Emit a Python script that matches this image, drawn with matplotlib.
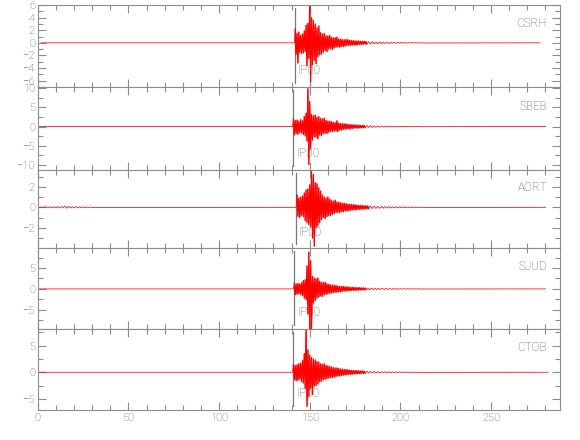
import matplotlib
matplotlib.use("Agg")
import matplotlib.pyplot as plt
import numpy as np
from matplotlib.ticker import MultipleLocator

# station traces, amplitudes (alternating swings)
stations = ["CSRH", "SBEB", "AORT", "SJUD", "CTOB"]
pick_label = "IP00"
pick_times = [142.0, 141.0, 142.5, 141.6, 141.0]
onsets = [142.0, 141.0, 143.0, 141.5, 141.0]
trace_start = [2.0, 1.0, 1.0, 1.0, 1.0]
trace_end = [277.0, 280.0, 280.0, 280.0, 281.5]
burst_dt = 0.5   # burst samples every 0.5 s from onset
coda_dt = 1.0    # coda samples every 1 s after the burst

csrh_burst = [2.2, -1.8, 1.5, -3.2, 1.7, -1.5, 1.2, -1.7, 1.4, -1.6,
              1.9, -1.4, 2.8, -3.6, 3.1, -2.5, 7.5, -6.2, 4.0, -3.5,
              3.6, -2.8, 3.0, -3.3, 2.4, -2.2, 2.7, -1.9, 1.6, -1.8,
              1.4, -1.5, 1.5, -1.2, 1.1, -1.4, 1.1, -1.0, 1.2, -0.9,
              0.9, -1.1, 0.8, -0.8, 0.8, -0.7, 0.9, -0.6, 0.6, -0.7,
              0.6, -0.6, 0.5, -0.6, 0.5, -0.5, 0.5, -0.4, 0.5, -0.4,
              0.4, -0.4, 0.4, -0.35, 0.35, -0.35, 0.3, -0.35, 0.3, -0.3,
              0.3, -0.25, 0.25, -0.3, 0.25, -0.2, 0.25, -0.2, 0.2, -0.2]
csrh_coda = [0.2, -0.2, 0.18, -0.15, 0.15, -0.14, 0.13, -0.12, 0.12, -0.1,
             0.1, -0.1, 0.09, -0.08, 0.08, -0.07, 0.07, -0.06, 0.06, -0.05,
             0.05, -0.05, 0.04, -0.04, 0.04, -0.03, 0.03, -0.03, 0.02, -0.02]

sbeb_burst = [2.0, -2.2, 1.6, -1.8, 1.7, -2.0, 1.4, -1.6, 1.8, -1.7,
              1.5, -2.1, 2.6, -2.4, 3.5, -3.8, 9.9, -9.9, 6.5, -5.8,
              3.2, -3.5, 2.8, -2.6, 3.0, -2.8, 2.4, -3.2, 2.6, -2.2,
              2.1, -2.4, 2.0, -1.8, 2.2, -1.7, 1.6, -1.8, 1.4, -1.5,
              1.4, -1.2, 1.3, -1.3, 1.1, -1.2, 1.0, -1.1, 1.5, -1.3,
              0.9, -0.9, 0.8, -0.9, 0.8, -0.7, 0.7, -0.7, 0.7, -0.6,
              0.6, -0.6, 0.5, -0.6, 0.5, -0.5, 0.5, -0.4, 0.4, -0.4,
              0.4, -0.4, 0.4, -0.35, 0.3, -0.35, 0.3, -0.3, 0.3, -0.3]
sbeb_coda = [0.3, -0.25, 0.25, -0.22, 0.2, -0.2, 0.18, -0.16, 0.16, -0.15,
             0.14, -0.13, 0.12, -0.12, 0.1, -0.1, 0.1, -0.09, 0.08, -0.08,
             0.07, -0.07, 0.06, -0.06, 0.05, -0.05, 0.04, -0.04, 0.03, -0.03]

aort_burst = [1.2, -0.9, 0.9, -1.0, 1.0, -0.8, 1.1, -0.9, 1.4, -1.3,
              1.7, -1.5, 1.8, -1.7, 2.2, -1.9, 3.7, -3.0, 3.2, -3.8,
              2.4, -2.0, 2.3, -1.8, 1.9, -1.5, 1.6, -1.2, 1.2, -1.0,
              1.0, -1.1, 0.9, -0.9, 1.0, -0.8, 0.8, -0.8, 0.7, -0.7,
              0.6, -0.6, 0.7, -0.5, 0.5, -0.5, 0.5, -0.5, 0.45, -0.4,
              0.4, -0.45, 0.4, -0.35, 0.35, -0.35, 0.3, -0.35, 0.3, -0.3,
              0.3, -0.25, 0.25, -0.25, 0.25, -0.25, 0.2, -0.2, 0.2, -0.2,
              0.2, -0.18, 0.18, -0.18, 0.15, -0.15, 0.15, -0.15, 0.14, -0.14]
aort_coda = [0.13, -0.12, 0.12, -0.11, 0.1, -0.1, 0.09, -0.09, 0.08, -0.08,
             0.07, -0.07, 0.06, -0.06, 0.05, -0.05, 0.05, -0.04, 0.04, -0.04,
             0.03, -0.03, 0.03, -0.03, 0.02, -0.02, 0.02, -0.02, 0.02, -0.02]
# small early wiggle on AORT, 1 s samples from t = 5 s
aort_early_start = 5.0
aort_early = [0.03, -0.03, 0.04, -0.04, 0.05, -0.04, 0.06, -0.05, 0.07, -0.06,
              0.12, -0.09, 0.08, -0.06, 0.06, -0.05, 0.07, -0.06, 0.05, -0.05,
              0.04, -0.04, 0.03, -0.03, 0.03, -0.02]

sjud_burst = [1.4, -1.4, 1.2, -1.3, 1.3, -1.1, 1.2, -1.4, 1.5, -1.6,
              2.0, -2.2, 2.2, -2.6, 5.5, -6.0, 8.8, -9.8, 6.8, -9.8,
              3.0, -3.4, 2.6, -2.8, 2.4, -2.2, 2.6, -2.0, 1.8, -1.7,
              1.6, -1.8, 1.5, -1.4, 1.6, -1.3, 1.2, -1.2, 1.1, -1.0,
              1.0, -1.0, 0.9, -0.9, 0.9, -0.8, 0.8, -0.8, 0.7, -0.7,
              0.6, -0.7, 0.6, -0.6, 0.6, -0.5, 0.5, -0.5, 0.5, -0.45,
              0.45, -0.4, 0.4, -0.4, 0.4, -0.35, 0.35, -0.35, 0.3, -0.3,
              0.3, -0.3, 0.3, -0.25, 0.25, -0.25, 0.25, -0.25, 0.22, -0.2]
sjud_coda = [0.2, -0.2, 0.18, -0.17, 0.16, -0.15, 0.14, -0.13, 0.12, -0.12,
             0.11, -0.1, 0.1, -0.09, 0.08, -0.08, 0.07, -0.07, 0.06, -0.06,
             0.05, -0.05, 0.05, -0.04, 0.04, -0.04, 0.03, -0.03, 0.03, -0.02]

ctob_burst = [1.5, -1.4, 1.3, -1.6, 1.4, -1.5, 1.6, -1.3, 1.7, -1.8,
              2.2, -2.0, 3.5, -3.0, 8.6, -6.4, 4.2, -4.5, 3.2, -3.0,
              2.8, -4.2, 2.5, -2.6, 2.3, -2.5, 2.0, -2.2, 1.9, -1.8,
              1.6, -1.7, 1.5, -1.4, 1.6, -1.3, 1.3, -1.2, 1.2, -1.1,
              1.1, -1.0, 1.0, -1.0, 0.9, -0.9, 0.8, -0.8, 0.8, -0.7,
              0.7, -0.7, 0.6, -0.6, 0.6, -0.55, 0.5, -0.5, 0.5, -0.45,
              0.45, -0.4, 0.4, -0.4, 0.35, -0.35, 0.35, -0.3, 0.3, -0.3,
              0.3, -0.28, 0.28, -0.25, 0.25, -0.25, 0.22, -0.22, 0.2, -0.2]
ctob_coda = [0.2, -0.18, 0.17, -0.16, 0.15, -0.14, 0.13, -0.12, 0.12, -0.11,
             0.1, -0.1, 0.09, -0.08, 0.08, -0.07, 0.07, -0.06, 0.06, -0.05,
             0.05, -0.05, 0.04, -0.04, 0.04, -0.03, 0.03, -0.03, 0.02, -0.02]

bursts = [csrh_burst, sbeb_burst, aort_burst, sjud_burst, ctob_burst]
codas = [csrh_coda, sbeb_coda, aort_coda, sjud_coda, ctob_coda]

x_ticks = [0, 50, 100, 150, 200, 250]

# axis setup per panel
ylims = [(-7.0, 6.0), (-11.3, 10.3), (-3.97, 3.64), (-9.6, 9.8), (-7.07, 8.1)]
ymajor = [2, 5, 2, 5, 5]
yminor = [1, 2.5, 1, 2.5, 2.5]

W, H = 580, 440
edges_px = [5, 87, 170, 248, 329, 410]
left_px, right_px = 37.7, 560

axis_gray = "#8c8c8c"
text_gray = "#5a5a5a"
plt.rcParams["font.family"] = ["Roboto", "DejaVu Sans"]
plt.rcParams["font.weight"] = "light"

fig = plt.figure(figsize=(W / 100, H / 100), dpi=100)

for i, name in enumerate(stations):
    top, bot = edges_px[i], edges_px[i + 1]
    ax = fig.add_axes([left_px / W, 1 - bot / H, (right_px - left_px) / W, (bot - top) / H])

    burst = np.array(bursts[i])
    coda = np.array(codas[i])
    tb = onsets[i] + burst_dt * np.arange(len(burst))
    tc = tb[-1] + coda_dt * np.arange(1, len(coda) + 1)

    t_parts = [[trace_start[i]]]
    y_parts = [[0.0]]
    if name == "AORT":
        t_parts.append(aort_early_start + np.arange(len(aort_early)))
        y_parts.append(aort_early)
    t_parts += [[onsets[i] - burst_dt], tb, tc, [trace_end[i]]]
    y_parts += [[0.0], burst, coda, [0.0]]
    t = np.concatenate([np.asarray(p, dtype=float) for p in t_parts])
    y = np.concatenate([np.asarray(p, dtype=float) for p in y_parts])

    # thin full trace, then the strong part a bit heavier
    ax.plot(t, y, color="red", lw=0.55, zorder=2)
    ax.plot(tb, burst, color="red", lw=0.85, zorder=2)
    ax.axvline(pick_times[i], ymin=0.05, ymax=0.96, color="#7a7a7a", lw=0.9, zorder=1)
    ax.text(pick_times[i] + 1.5, 0.2, pick_label, transform=ax.get_xaxis_transform(),
            color=text_gray, fontsize=8.5, ha="left", va="center", zorder=1)
    ax.text(0.975, 0.77, name, transform=ax.transAxes, color=text_gray,
            fontsize=8.5, ha="right", va="center")

    ax.set_xlim(0, 288)
    ax.set_ylim(*ylims[i])
    ax.xaxis.set_major_locator(MultipleLocator(50))
    ax.xaxis.set_minor_locator(MultipleLocator(10))
    ax.yaxis.set_major_locator(MultipleLocator(ymajor[i]))
    ax.yaxis.set_minor_locator(MultipleLocator(yminor[i]))
    ax.tick_params(which="both", direction="in", top=True, right=True,
                   color=axis_gray, labelcolor=text_gray, labelsize=8, width=0.8)
    ax.tick_params(which="major", length=6, pad=2)
    ax.tick_params(which="minor", length=3.5)
    for s in ax.spines.values():
        s.set_color(axis_gray)
        s.set_linewidth(0.8)
    if i < len(stations) - 1:
        ax.tick_params(labelbottom=False)
    else:
        ax.set_xticks(x_ticks)

fig.savefig("out.png", dpi=100)
